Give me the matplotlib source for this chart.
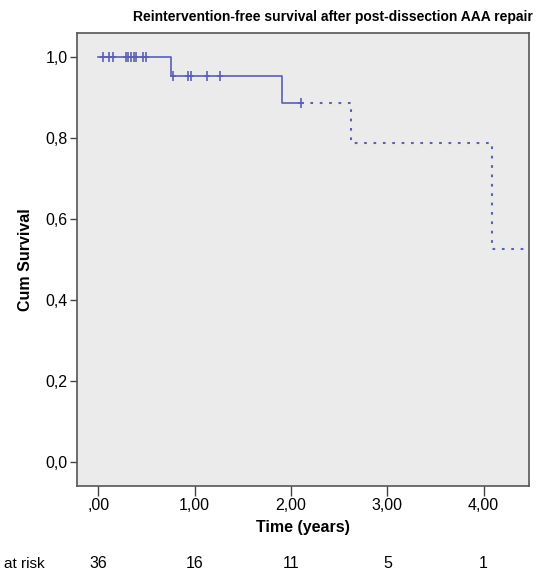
import numpy as np
import matplotlib
matplotlib.use('Agg')
import matplotlib.pyplot as plt

plt.rcParams['font.family'] = ['Liberation Sans', 'DejaVu Sans']

# Kaplan-Meier steps
step_times = [0.0, 0.756, 1.91, 2.62, 4.09]
step_surv = [1.0, 0.955, 0.887, 0.788, 0.526]
solid_end = 2.10      # last censored point on the solid part
curve_end = 4.46

cens_times = [0.05, 0.11, 0.155, 0.29, 0.31, 0.34, 0.37, 0.39, 0.46, 0.50,
              0.78, 0.93, 0.96, 1.13, 1.26, 2.10]
cens_surv = [1.0] * 10 + [0.955] * 5 + [0.887]

risk_times = [0, 1, 2, 3, 4]
at_risk = [36, 16, 11, 5, 1]

line_col = '#5a60b4'

fig = plt.figure(figsize=(5.47, 5.71), dpi=100)
ax = fig.add_axes([0.141, 0.149, 0.826, 0.793])
ax.set_facecolor('#ebebeb')


def km_path(t_from, t_to):
    xs, ys = [], []
    for i, t in enumerate(step_times):
        nxt = step_times[i + 1] if i + 1 < len(step_times) else np.inf
        lo, hi = max(t, t_from), min(nxt, t_to)
        if lo >= hi:
            continue
        if xs:
            xs.append(lo)
            ys.append(step_surv[i])
        xs += [lo, hi]
        ys += [step_surv[i], step_surv[i]]
    return xs, ys


xs, ys = km_path(0, solid_end)
ax.plot(xs, ys, color=line_col, lw=1.2)
xs, ys = km_path(solid_end, curve_end)
ax.plot(xs, ys, color=line_col, lw=1.5, ls=(0, (1.3, 3.2)))
ax.plot(cens_times, cens_surv, ls='none', marker='|', ms=7, mew=1.2, color=line_col)
ax.plot(cens_times, cens_surv, ls='none', marker='_', ms=5, mew=1.2, color=line_col)

ax.set_xlim(-0.22, 4.47)
ax.set_ylim(-0.058, 1.06)
ax.set_xticks(risk_times)
ax.set_xticklabels([',00', '1,00', '2,00', '3,00', '4,00'], fontsize=11.5)
ax.set_yticks([0, 0.2, 0.4, 0.6, 0.8, 1.0])
ax.set_yticklabels(['0,0', '0,2', '0,4', '0,6', '0,8', '1,0'], fontsize=11.5)
ax.tick_params(axis='x', direction='out', length=7, width=1, color='#444444', pad=2)
ax.tick_params(axis='y', direction='out', length=5, width=1, color='#444444', pad=2)
for s in ax.spines.values():
    s.set_color('#555555')
    s.set_linewidth(1.2)

ax.set_xlabel('Time (years)', fontsize=11.5, fontweight='bold', labelpad=5)
ax.set_ylabel('Cum Survival', fontsize=11.5, fontweight='bold', labelpad=9)
fig.text(533 / 547, 1 - 17 / 571,
         'Reintervention-free survival after post-dissection AAA repair',
         fontsize=10, fontweight='bold', ha='right', va='center')

# numbers at risk below the axis
trans = ax.get_xaxis_transform()
ax.text(-0.56, -0.172, 'at risk', transform=trans, fontsize=11, ha='right',
        va='center', clip_on=False)
for t, n in zip(risk_times, at_risk):
    ax.text(t, -0.172, str(n), transform=trans, fontsize=11.5, ha='center', va='center')

fig.savefig('out.png', dpi=100)
